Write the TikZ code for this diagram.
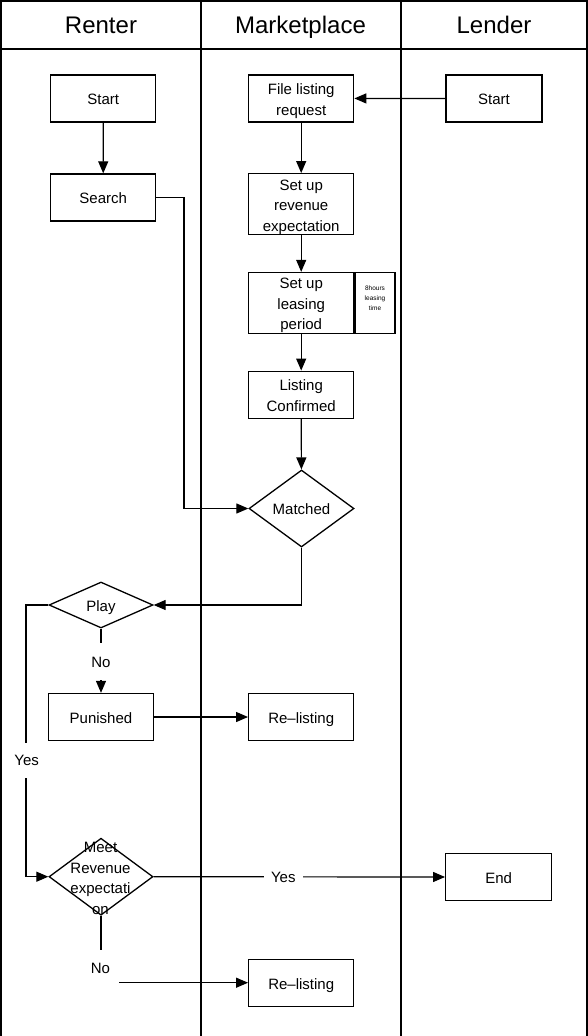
\documentclass[tikz,border=0pt]{standalone}
\usepackage{fontspec}
\setmainfont{Liberation Sans}
\usetikzlibrary{shapes.geometric,arrows.meta}
\newcommand\sx{\rule[-3.5pt]{0pt}{19.8pt}}
\begin{document}
\begin{tikzpicture}[x=1pt,y=-1pt,
  lane/.style={line width=1.8pt},
  box/.style={draw,line width=1.3pt,rectangle,inner sep=0pt,minimum width=105pt,minimum height=47pt,align=center,font=\fontsize{15}{20.5}\selectfont},
  tall/.style={box,minimum height=61pt},
  dia/.style={draw,line width=1.3pt,diamond,inner sep=0pt,minimum width=105pt,minimum height=#1},
  dtext/.style={align=center,font=\fontsize{15}{20.7}\selectfont,inner sep=0pt},
  arr/.style={line width=1.2pt,-{Triangle[length=12pt,width=10pt]}},
  lbl/.style={fill=white,font=\fontsize{15}{18}\selectfont,text height=12pt,text depth=1pt},
  head/.style={font=\fontsize{24}{26}\selectfont,anchor=base}
]
\useasboundingbox (0,0) rectangle (588,1036);
% lanes
\draw[lane] (1,1036) -- (1,1) -- (587,1) -- (587,1036);
\draw[lane] (1,49.3) -- (587,49.3);
\draw[lane] (201,1) -- (201,1036);
\draw[lane] (401,1) -- (401,1036);
\node[head] (h1) at (101,33) {Renter};
\node[head] (h2) at (300.5,33) {Marketplace};
\node[head] (h3) at (494,33) {Lender};
% nodes
\node[box] (rstart) at (103.3,98.5) {\sx Start};
\node[box] (search) at (103.2,197.5) {\sx Search};
\node[box] (file) at (301.2,98.4) {\sx File listing\\request\sx};
\node[box,minimum width=96pt] (lstart) at (494,98.5) {\sx Start};
\node[tall] (rev) at (301.2,204.2) {\sx Set up\\revenue\\expectation\sx};
\node[tall] (lease) at (301.2,303) {\sx Set up\\leasing\\period\sx};
\node[draw,line width=1.3pt,minimum width=40pt,minimum height=61pt,inner sep=0pt,anchor=west,align=center,font=\fontsize{6.5}{10}\selectfont] (note) at (lease.east) {8hours\\leasing\\time\rule[-10pt]{0pt}{10pt}};
\node[box] (conf) at (301.2,394.7) {\sx Listing\\Confirmed\sx};
\node[dia=77pt] (match) at (301.5,508.5) {};
\node[dtext] (matcht) at (match.center) {\sx Matched};
\node[dia=46pt,minimum width=104pt] (play) at (101,605) {};
\node[dtext] (playt) at (play.center) {\sx Play};
\node[box] (pun) at (101,717) {\sx Punished};
\node[box] (rl1) at (301.2,717) {\sx Re–listing};
\node[dia=77pt,minimum width=104pt] (meet) at (101,876.7) {};
\node[dtext] (meett) at (100.5,877) {\sx Meet\\Revenue\\expectati\\on\sx};
\node[box,minimum width=106pt] (end) at (498.7,877) {\sx End};
\node[box] (rl2) at (301.2,982.7) {\sx Re–listing};
% connectors
\draw[arr] (rstart) -- (search);
\draw[arr] (lstart) -- (file);
\draw[arr] (file) -- (rev);
\draw[arr] (rev) -- (lease);
\draw[arr] (lease) -- (conf);
\draw[arr] (conf) -- (match);
\draw[arr] (search.east) -- ++(27.6,0) |- (match.west);
\draw[arr] (match.south) |- (play.east);
\draw[arr] (play.south) -- (pun.north);
\draw[arr] (pun) -- (rl1);
\draw[arr] (play.west) -- ++(-22.3,0) |- (meet.west);
\draw[arr] (meet.east) -- (end.west);
\draw[arr] (meet.south) |- (rl2.west);
% labels
\node[lbl,inner xsep=4pt,inner ysep=12pt] (no1) at (101,661.5) {No};
\node[lbl,inner xsep=4pt,inner ysep=11pt] (yes1) at (26.7,760.4) {Yes};
\node[lbl,inner xsep=7pt,inner ysep=2pt] (yes2) at (283.3,877.3) {Yes};
\node[lbl,inner xsep=8.7pt,inner ysep=11.8pt] (no2) at (100.5,968.3) {No};
\end{tikzpicture}
\end{document}
